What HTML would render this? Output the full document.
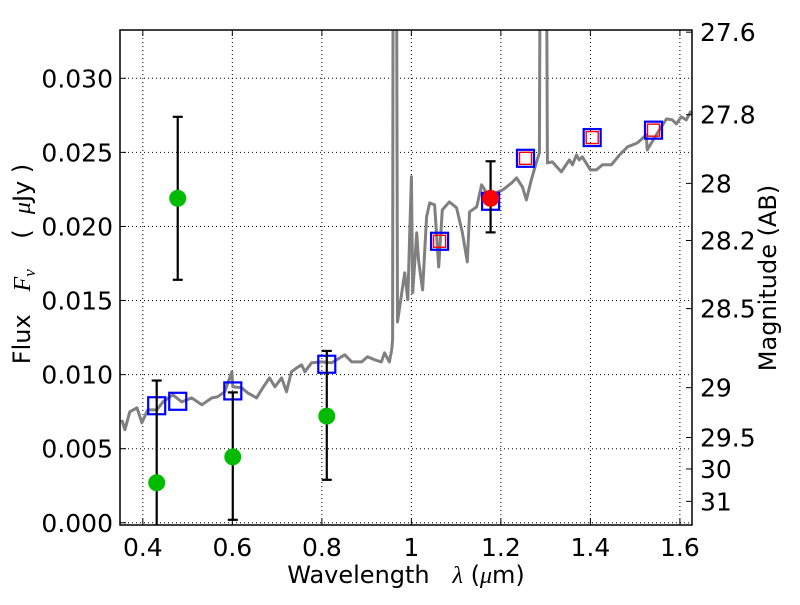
<!DOCTYPE html>
<html><head><meta charset="utf-8"><style>
body{margin:0;background:#fff;}
svg text{font-family:"DejaVu Sans","Liberation Sans",sans-serif;fill:#000;white-space:pre;}
</style></head><body>
<svg id="chart" width="800" height="600" xmlns="http://www.w3.org/2000/svg">
<g id="grid"></g>
<g id="spec"></g>
<g id="marks"></g>
<g id="axes"></g>
</svg>
<script>
const xTicks=[0.4,0.6,0.8,1.0,1.2,1.4,1.6];
const xTickLabels=["0.4","0.6","0.8","1","1.2","1.4","1.6"];
const yTicks=[0,0.005,0.010,0.015,0.020,0.025,0.030];
const yTickLabels=["0.000","0.005","0.010","0.015","0.020","0.025","0.030"];
const magTicks=[27.6,27.8,28,28.2,28.5,29,29.5,30,31];
const magTickLabels=["27.6","27.8","28","28.2","28.5","29","29.5","30","31"];
const specWave=[0.353,0.360,0.371,0.387,0.398,0.411,0.431,0.445,0.467,0.487,0.509,0.532,0.554,0.567,0.583,0.599,0.601,0.621,0.634,0.654,0.668,0.683,0.695,0.710,0.721,0.732,0.744,0.755,0.762,0.777,0.800,0.822,0.840,0.851,0.867,0.889,0.902,0.918,0.933,0.940,0.951,0.956,0.958,0.960,0.965,0.969,0.985,0.992,1.000,1.003,1.012,1.016,1.025,1.034,1.041,1.052,1.061,1.069,1.085,1.101,1.114,1.125,1.130,1.146,1.157,1.168,1.190,1.204,1.224,1.235,1.248,1.257,1.268,1.279,1.286,1.290,1.299,1.304,1.315,1.335,1.353,1.360,1.369,1.375,1.382,1.400,1.413,1.427,1.447,1.465,1.483,1.505,1.525,1.527,1.554,1.570,1.583,1.592,1.603,1.614,1.625];
const specFlux=[0.00695,0.00628,0.00749,0.00776,0.00675,0.00762,0.00762,0.00816,0.00864,0.00816,0.00843,0.00796,0.00843,0.00850,0.00884,0.01019,0.00918,0.00911,0.00877,0.00843,0.00911,0.00978,0.00918,0.00978,0.00884,0.01019,0.01046,0.01066,0.01019,0.01080,0.01086,0.01080,0.01113,0.01134,0.01086,0.01086,0.01120,0.01100,0.01086,0.01147,0.01086,0.01167,0.01235,0.06,0.06,0.01356,0.01687,0.01505,0.02335,0.01552,0.01957,0.01775,0.01572,0.02065,0.02159,0.02146,0.01727,0.02112,0.02166,0.02126,0.01957,0.01761,0.02099,0.02132,0.02281,0.02227,0.02227,0.02247,0.02294,0.02328,0.02267,0.02179,0.02314,0.02429,0.02497,0.06,0.06,0.02429,0.02436,0.02368,0.02449,0.02416,0.02483,0.02449,0.02470,0.02382,0.02382,0.02416,0.02416,0.02483,0.02537,0.02564,0.02618,0.02517,0.02652,0.02726,0.02719,0.02692,0.02740,0.02719,0.02780];
const obsWave=[0.431,0.478,0.601,0.811];
const obsFlux=[0.0027,0.0219,0.00445,0.0072];
const obsHi=[0.0096,0.0274,0.0088,0.0116];
const obsLo=[-0.001,0.0164,0.0002,0.0029];
const detWave=[1.177];
const detFlux=[0.0219];
const detHi=[0.0244];
const detLo=[0.0196];
const modelWave=[0.431,0.478,0.601,0.811,1.063,1.177,1.255,1.404,1.541];
const modelFlux=[0.0079,0.0082,0.0089,0.0107,0.0190,0.0217,0.0246,0.0260,0.0265];
const fitWave=[1.063,1.255,1.404,1.541];
const fitFlux=[0.0190,0.0246,0.0260,0.0265];

const L=120,R=692,T=30,B=525;
const xMin=0.349,xMax=1.627,yMin=-0.00015,yMax=0.03326;
const X=v=>L+(v-xMin)/(xMax-xMin)*(R-L);
const Y=v=>B-(v-yMin)/(yMax-yMin)*(B-T);
const NS="http://www.w3.org/2000/svg";
const FS=25;
function mk(tag,attrs,parent){const e=document.createElementNS(NS,tag);for(const k in attrs)e.setAttribute(k,attrs[k]);parent.appendChild(e);return e;}
const grid=document.getElementById('grid'),spec=document.getElementById('spec'),marks=document.getElementById('marks'),axes=document.getElementById('axes');
const svg=document.getElementById('chart');
const defs=mk('defs',{},svg);const cp=mk('clipPath',{id:'clip'},defs);mk('rect',{x:L,y:T,width:R-L,height:B-T},cp);
spec.setAttribute('clip-path','url(#clip)');marks.setAttribute('clip-path','url(#clip)');

xTicks.forEach((v,i)=>{
 const x=X(v);
 const g=mk('line',{x1:x,x2:x,y1:T,y2:B,stroke:'#000','stroke-width':1,'stroke-dasharray':'1,3'},grid);
 
 
 mk('line',{x1:x,x2:x,y1:B,y2:B-6,stroke:'#000','stroke-width':1},axes);
 mk('line',{x1:x,x2:x,y1:T,y2:T+6,stroke:'#000','stroke-width':1},axes);
 const t=mk('text',{x:x,y:556,'font-size':FS,'text-anchor':'middle'},axes);t.textContent=xTickLabels[i];
 
 
});
yTicks.forEach((v,i)=>{
 const y=Y(v);
 const g=mk('line',{x1:L,x2:R,y1:y,y2:y,stroke:'#000','stroke-width':1,'stroke-dasharray':'1,3'},grid);
 
 
 mk('line',{x1:L,x2:L+6,y1:y,y2:y,stroke:'#000','stroke-width':1},axes);
 const t=mk('text',{x:113,y:y+9,'font-size':FS,'text-anchor':'end'},axes);t.textContent=yTickLabels[i];
 
 
});
magTicks.forEach((m,i)=>{
 const y=Y(Math.pow(10,(23.9-m)/2.5));
 mk('line',{x1:R,x2:R-6,y1:y,y2:y,stroke:'#000','stroke-width':1},axes);
 const t=mk('text',{x:700,y:y+9,'font-size':FS},axes);t.textContent=magTickLabels[i];
 
 
});
const pts=specWave.map((w,i)=>X(w).toFixed(1)+','+Y(specFlux[i]).toFixed(1)).join(' ');
const pl=mk('polyline',{points:pts,fill:'none',stroke:'#808080','stroke-width':3,'stroke-linejoin':'round'},spec);



function errbar(w,lo,hi){const x=X(w);
 mk('line',{x1:x,x2:x,y1:Y(lo),y2:Y(hi),stroke:'#000','stroke-width':2.2},marks);
 mk('line',{x1:x-5,x2:x+5,y1:Y(lo),y2:Y(lo),stroke:'#000','stroke-width':2.2},marks);
 mk('line',{x1:x-5,x2:x+5,y1:Y(hi),y2:Y(hi),stroke:'#000','stroke-width':2.2},marks);}
modelWave.forEach((w,i)=>{
 const r=mk('rect',{x:X(w)-8.5,y:Y(modelFlux[i])-8.5,width:17,height:17,fill:'none',stroke:'#0000ff','stroke-width':2.2},marks);
 
 
});
fitWave.forEach((w,i)=>{
 const r=mk('rect',{x:X(w)-6,y:Y(fitFlux[i])-6,width:12,height:12,fill:'none',stroke:'#ff0000','stroke-width':1.4},marks);
 
 
});
obsWave.forEach((w,i)=>{
 errbar(w,obsLo[i],obsHi[i]);
 const c=mk('circle',{cx:X(w),cy:Y(obsFlux[i]),r:8.5,fill:'#00bb00'},marks);
 
 
});
detWave.forEach((w,i)=>{
 errbar(w,detLo[i],detHi[i]);
 const c=mk('circle',{cx:X(w),cy:Y(detFlux[i]),r:8.5,fill:'#ff0000'},marks);
 
 
});
const fr=mk('rect',{x:L,y:T,width:R-L,height:B-T,fill:'none',stroke:'#000','stroke-width':1.5},axes);


</script>
<svg style="position:absolute;left:0;top:0" width="800" height="600" xmlns="http://www.w3.org/2000/svg">
<text x="406" y="583" font-size="24" text-anchor="middle">Wavelength   <tspan font-style="italic" style="font-family:'Liberation Serif',serif">λ</tspan> (<tspan font-style="italic" style="font-family:'Liberation Serif',serif">μ</tspan>m)</text>
<text transform="translate(30,264) rotate(-90)" font-size="24" text-anchor="middle">Flux   <tspan font-style="italic" style="font-family:'Liberation Serif',serif">F</tspan><tspan font-size="17" dy="5" font-style="italic" style="font-family:'Liberation Serif',serif">ν</tspan><tspan dy="-5">    (  </tspan><tspan font-style="italic" style="font-family:'Liberation Serif',serif">μ</tspan>Jy )</text>
<text transform="translate(776,278) rotate(-90)" font-size="24" text-anchor="middle">Magnitude (AB)</text>
</svg>
</body></html>
